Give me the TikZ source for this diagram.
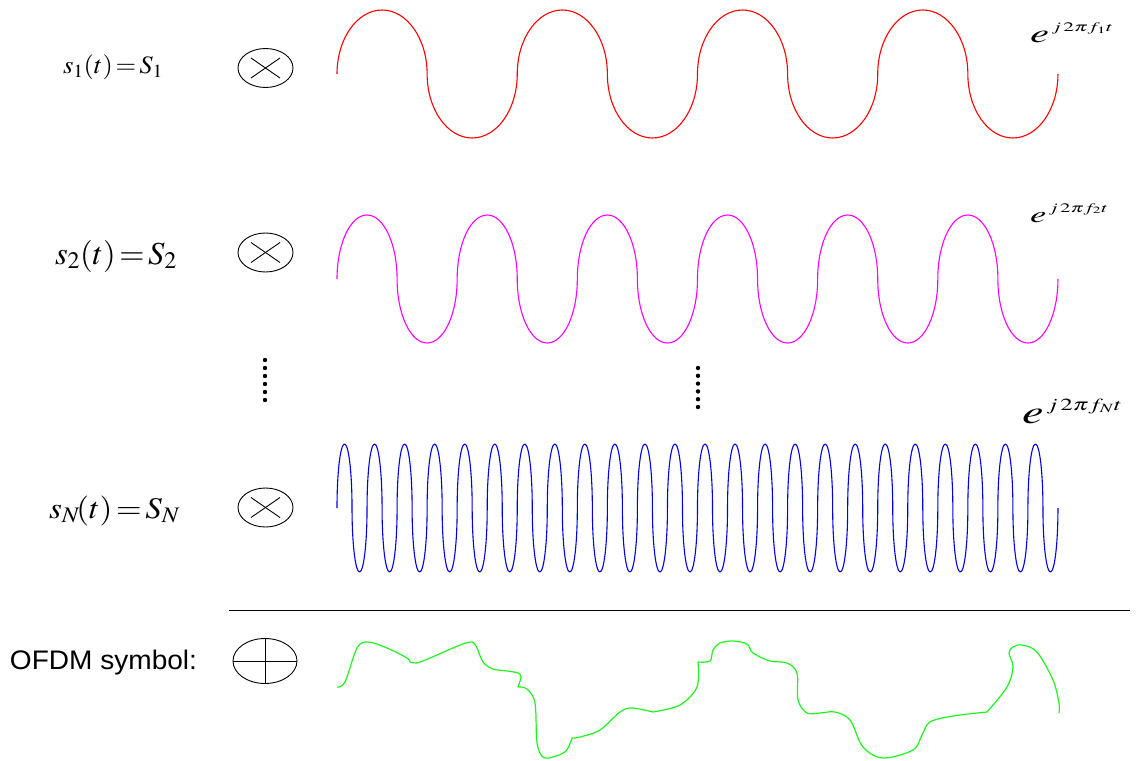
\documentclass[tikz,border=0pt]{standalone}
\usepackage{mathptmx}
\usepackage[no-math]{fontspec}
\newfontfamily\arialf{Liberation Sans}
\usepackage{graphicx}
\usetikzlibrary{shapes.geometric,calc}
\definecolor{wred}{RGB}{255,0,0}
\definecolor{wmag}{RGB}{255,0,255}
\definecolor{wblue}{RGB}{0,0,230}
\definecolor{wgreen}{RGB}{30,245,30}
\newcommand{\fsz}[1]{\fontsize{#1}{#1}\selectfont}
\newcommand{\teq}{\mkern2mu{=}\mkern2mu}
\newcommand{\expo}[5]{% e size, exp size, raise, subscript, width
  \resizebox{#5pt}{\height}{\fsz{#1}$e$\raisebox{#3pt}{\fsz{#2}$\,j\,2\pi f_{#4} t$}}}
\tikzset{
  lbl/.style={inner sep=0pt, outer sep=0pt, anchor=center},
  sig/.style={inner sep=0pt, outer sep=0pt, anchor=base west},
  opcirc/.style={draw=black, ellipse, line width=0.9pt, inner sep=0pt},
  wave/.style={line width=1.1pt, line join=round},
  dotmark/.style={fill=black},
}
\begin{document}
\begin{tikzpicture}[x=1pt,y=-1pt]
\useasboundingbox (0,0) rectangle (1137,760);

% left labels
\node[sig] (l1) at (63,74) {\resizebox{100pt}{\height}{\fsz{25}$s_1(t)\teq S_1$}};
\node[sig] (l2) at (55,264) {\resizebox{122pt}{\height}{\fsz{32}$s_2(t)\teq S_2$}};
\node[sig] (lN) at (49,518) {\resizebox{131pt}{\height}{\fsz{30}$s_N\!(t)\teq S_N$}};
\node[lbl] (lo) at (103.5,662.5) {\resizebox*{187pt}{25pt}{\arialf OFDM symbol:}};

% exponential labels
\node[sig] (e1) at (1030,42) {\expo{26}{13}{10}{1}{83}};
\node[sig] (e2) at (1030,222) {\expo{23}{13}{10}{2}{78}};
\node[sig] (eN) at (1022,423) {\expo{33}{17}{13}{N}{100}};

% multiplier circles
\foreach \n/\yy in {m1/68, m2/252.5, mN/507.5} {
  \node[opcirc, minimum width=55pt, minimum height=39pt] (\n) at (265.5,\yy) {};
  \draw[line width=0.9pt] ($(\n.center)+(-14.5,-10)$) -- ($(\n.center)+(14.5,10)$);
  \draw[line width=0.9pt] ($(\n.center)+(-14.5,10)$) -- ($(\n.center)+(14.5,-10)$);
}
% adder circle
\node[opcirc, minimum width=64pt, minimum height=45pt] (add) at (265,661) {};
\draw[line width=0.9pt] (add.north) -- (add.south);
\draw[line width=0.9pt] (add.west) -- (add.east);

% separator line
\coordinate (hl) at (229,610);
\coordinate (hr) at (1130,610);
\draw[line width=0.9pt] (hl) -- (hr);

% dots
\foreach \k in {0,...,5} {
  \fill[dotmark] (265,360+\k*8) circle (2.2);
  \fill[dotmark] (698,368+\k*7.8) circle (2.2);
}

% waves
\draw[wave, wred] (337,74) \foreach \i in {1,...,4} {
  arc[start angle=180,end angle=0,x radius=45.06pt,y radius=64pt]
  arc[start angle=180,end angle=360,x radius=45.06pt,y radius=64pt]};
\draw[wave, wmag] (337,279) \foreach \i in {1,...,6} {
  arc[start angle=180,end angle=0,x radius=30.04pt,y radius=64pt]
  arc[start angle=180,end angle=360,x radius=30.04pt,y radius=64pt]};
\draw[wave, wblue] (337,508) \foreach \i in {1,...,24} {
  arc[start angle=180,end angle=0,x radius=7.51pt,y radius=64pt]
  arc[start angle=180,end angle=360,x radius=7.51pt,y radius=64pt]};

% OFDM symbol waveform
\draw[wave, wgreen, line width=1.2pt]
  plot[smooth, tension=0.55] coordinates {(337,687) (345,682) (357,648) (368,642) (387,648) (407,658) (410,662)}
  -- plot[smooth, tension=0.55] coordinates {(410,662) (417,663) (430,658) (453,648) (470,642) (476,646) (483,662) (493,669) (507,671) (518,673) (521,677) (518,687)}
  -- plot[smooth, tension=0.55] coordinates {(518,687) (527,689) (535,703) (537,743) (543,757) (553,757) (566,751) (572,738)}
  -- plot[smooth, tension=0.55] coordinates {(572,738) (580,737) (600,730) (620,712) (632,708) (653,712)}
  -- plot[smooth, tension=0.55] coordinates {(653,712) (680,705) (697,687) (698,662)}
  -- plot[smooth, tension=0.55] coordinates {(698,662) (710,661) (713,650) (720,643) (733,641) (747,644) (753,653) (770,661) (787,663) (797,673) (798,700) (807,713) (820,713) (835,712) (850,720) (863,747) (883,758) (913,750) (922,735) (930,722) (953,716) (987,712)}
  -- plot[smooth, tension=0.55] coordinates {(987,712) (1007,687) (1013,667) (1009,653) (1013,647) (1022,645) (1037,652) (1053,680) (1059,703) (1059,713)};
\end{tikzpicture}
\end{document}
